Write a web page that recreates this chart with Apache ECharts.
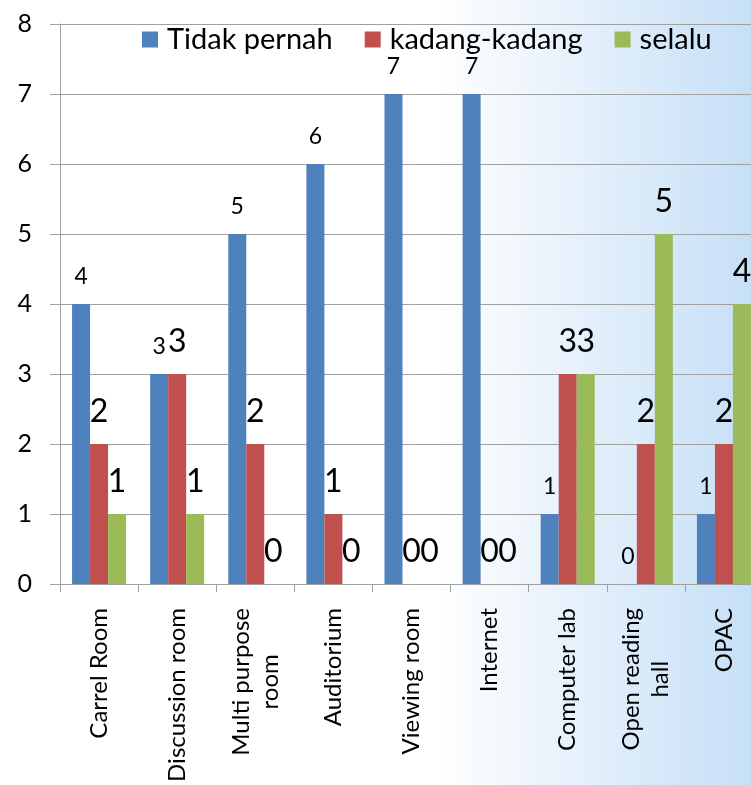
<!DOCTYPE html>
<html>
<head>
<meta charset="utf-8">
<script src="https://cdn.jsdelivr.net/npm/echarts@6.0.0/dist/echarts.min.js"></script>
<style>
  html, body { margin: 0; padding: 0; overflow: hidden; }
  /* the original picture is cropped on the right, so the canvas runs past the window */
  #chart { width: 763px; height: 785px; }
</style>
</head>
<body>
<div id="chart"></div>
<script>
// data
const categories = ['Carrel Room', 'Discussion room', 'Multi purpose\nroom', 'Auditorium',
  'Viewing room', 'Internet', 'Computer lab', 'Open reading\nhall', 'OPAC'];
const tidakPernah = [4, 3, 5, 6, 7, 7, 1, 0, 1];
const kadangKadang = [2, 3, 2, 1, 0, 0, 3, 2, 2];
const selalu = [1, 1, 0, 0, 0, 0, 3, 5, 4];
const yTicks = [0, 1, 2, 3, 4, 5, 6, 7, 8];

const font = 'Lato';
const gridColor = '#a0a0a0';

const chart = echarts.init(document.getElementById('chart'));

// label style: blue uses small digits, red/green bigger ones
const makeLabel = (size) => ({
  show: true,
  position: 'top',
  distance: 16,
  fontFamily: font,
  fontSize: size,
  color: '#000'
});

const option = {
  animation: false,
  backgroundColor: {
    type: 'linear', x: 0, y: 0, x2: 1, y2: 0,
    colorStops: [
      { offset: 0, color: '#ffffff' },
      { offset: 0.57, color: '#ffffff' },
      { offset: 1, color: '#c4def6' }
    ]
  },
  textStyle: { fontFamily: font },
  legend: {
    left: 137,
    top: 20,
    itemWidth: 16,
    itemHeight: 16,
    itemGap: 32,
    icon: 'rect',
    textStyle: { fontFamily: font, fontSize: 29, color: '#000', padding: [0, 0, 0, 4] },
    data: ['Tidak pernah', 'kadang-kadang', 'selalu']
  },
  grid: {
    left: 60,
    top: 24,
    right: 0,
    height: 560,
    containLabel: false
  },
  xAxis: {
    type: 'category',
    data: categories,
    axisLine: { lineStyle: { color: gridColor } },
    axisTick: { show: true, interval: 0, length: 8, lineStyle: { color: gridColor } },
    axisLabel: {
      interval: 0,
      rotate: 90,
      margin: 24,
      formatter: (v) => v.split('\n').map(s => '{c|' + s + '}').join('\n'),
      rich: {
        c: { align: 'center', fontFamily: font, fontSize: 24, color: '#000', lineHeight: 29 }
      }
    }
  },
  yAxis: {
    type: 'value',
    min: yTicks[0],
    max: yTicks[yTicks.length - 1],
    interval: 1,
    axisLine: { show: true, lineStyle: { color: gridColor } },
    axisTick: { show: true, length: 10, lineStyle: { color: gridColor } },
    axisLabel: { fontFamily: font, fontSize: 25, color: '#000', margin: 28 },
    splitLine: { lineStyle: { color: gridColor, width: 1 } }
  },
  series: [
    {
      name: 'Tidak pernah', type: 'bar', data: tidakPernah,
      barWidth: 18, barGap: '0%',
      itemStyle: { color: '#4f81bd' },
      label: makeLabel(23)
    },
    {
      name: 'kadang-kadang', type: 'bar', data: kadangKadang,
      barWidth: 18, barGap: '0%',
      itemStyle: { color: '#c0504d' },
      label: makeLabel(32)
    },
    {
      name: 'selalu', type: 'bar', data: selalu,
      barWidth: 18, barGap: '0%',
      itemStyle: { color: '#9bbb59' },
      label: makeLabel(32)
    }
  ]
};

chart.setOption(option);
</script>
</body>
</html>
